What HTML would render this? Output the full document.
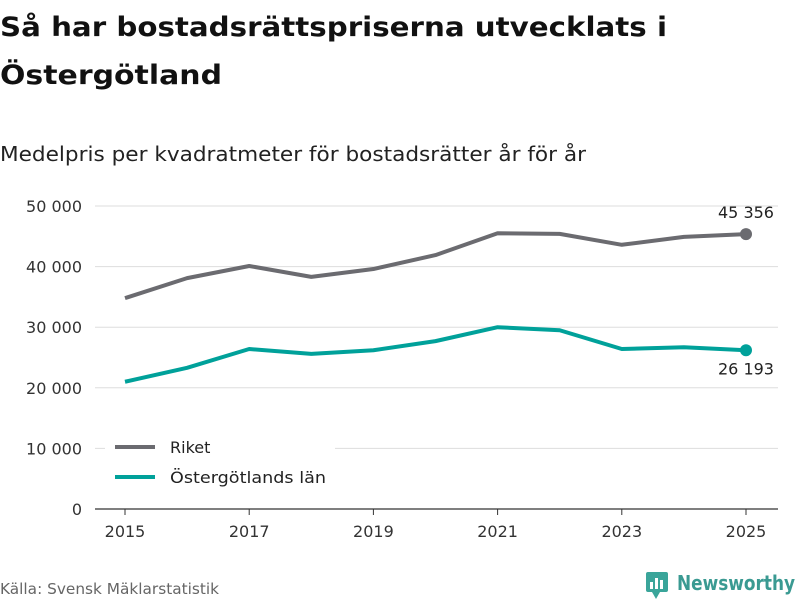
<!DOCTYPE html>
<html><head><meta charset="utf-8">
<style>
body{margin:0;background:#fff;width:800px;height:600px;overflow:hidden;font-family:"DejaVu Sans","Liberation Sans",sans-serif;}
</style></head>
<body>
<svg width="800" height="600" font-family="DejaVu Sans, Liberation Sans, sans-serif">
<text x="0" y="36" font-size="27" font-weight="bold" fill="#111" textLength="667" lengthAdjust="spacingAndGlyphs">Så har bostadsrättspriserna utvecklats i</text>
<text x="0" y="84" font-size="27" font-weight="bold" fill="#111" textLength="222" lengthAdjust="spacingAndGlyphs">Östergötland</text>
<text x="0" y="161" font-size="20" fill="#222" textLength="586" lengthAdjust="spacingAndGlyphs">Medelpris per kvadratmeter för bostadsrätter år för år</text>
<g id="grid"></g>
<g id="xaxis"></g>
<g id="series"></g>
<g>
<rect x="105" y="432" width="230" height="64" fill="#fff"/>
<line x1="115" y1="447" x2="155" y2="447" stroke="#6b6b70" stroke-width="4"/>
<text x="170" y="453" font-size="16" fill="#222">Riket</text>
<line x1="115" y1="477" x2="155" y2="477" stroke="#00a19a" stroke-width="4"/>
<text x="170" y="483" font-size="16" fill="#222" textLength="156" lengthAdjust="spacingAndGlyphs">Östergötlands län</text>
</g>
<text x="0" y="594" font-size="15" fill="#666" textLength="219" lengthAdjust="spacingAndGlyphs">Källa: Svensk Mäklarstatistik</text>
<g>
<rect x="646" y="572" width="22" height="20" rx="2" fill="#3aa59a"/>
<polygon points="652,592 660,592 656,599" fill="#3aa59a"/>
<rect x="650" y="582" width="3" height="7" fill="#fff"/><rect x="655" y="578" width="3" height="11" fill="#fff"/><rect x="660" y="580" width="3" height="9" fill="#fff"/>
<text x="677" y="590" font-size="20" font-weight="bold" fill="#3a9a92" textLength="118" lengthAdjust="spacingAndGlyphs">Newsworthy</text>
</g>
</svg>
<script>
const years=[2015,2016,2017,2018,2019,2020,2021,2022,2023,2024,2025];
const riket=[34800,38100,40100,38300,39600,41900,45500,45400,43600,44900,45356];
const ostergotland=[21000,23300,26400,25600,26200,27700,30000,29500,26400,26700,26193];
const yTicks=[0,10000,20000,30000,40000,50000];
const xTicks=[2015,2017,2019,2021,2023,2025];
const ns="http://www.w3.org/2000/svg";
const X=v=>125+(v-2015)*62.1;
const Y=v=>509-v/50000*303;
const fmt=v=>String(v).replace(/\B(?=(\d{3})+(?!\d))/g,"\u00a0");
function mk(tag,attrs,parent){const e=document.createElementNS(ns,tag);for(const k in attrs)e.setAttribute(k,attrs[k]);parent.appendChild(e);return e;}
const grid=document.getElementById('grid');
yTicks.forEach(t=>{
 const l=mk('line',{x1:95,x2:778,y1:Y(t),y2:Y(t),stroke:t===0?'#333':'#ddd','stroke-width':t===0?1.2:1},grid);
 
 
 const tx=mk('text',{x:82,y:Y(t)+6,'text-anchor':'end','font-size':16,fill:'#333'},grid);
 tx.textContent=fmt(t);
 
 
});
const xa=document.getElementById('xaxis');
xTicks.forEach(t=>{
 const l=mk('line',{x1:X(t),x2:X(t),y1:509,y2:515,stroke:'#333'},xa);
 
 
 const tx=mk('text',{x:X(t),y:537,'text-anchor':'middle','font-size':16,fill:'#333'},xa);
 tx.textContent=t;
 
 
});
const sg=document.getElementById('series');
function draw(vals,color,name,labelDy){
 const p=mk('polyline',{points:vals.map((v,i)=>X(years[i])+','+Y(v)).join(' '),fill:'none',stroke:color,'stroke-width':4,'stroke-linejoin':'round'},sg);
 
 
 const n=vals.length-1;
 const c=mk('circle',{cx:X(years[n]),cy:Y(vals[n]),r:6,fill:color},sg);
 
 
 const t=mk('text',{x:X(years[n]),y:Y(vals[n])+labelDy,'text-anchor':'middle','font-size':16,fill:'#222'},sg);
 t.textContent=fmt(vals[n]);
 
 
}
draw(riket,'#6b6b70','riket',-16);
draw(ostergotland,'#00a19a','ostergotland',24);
</script>
</body></html>
